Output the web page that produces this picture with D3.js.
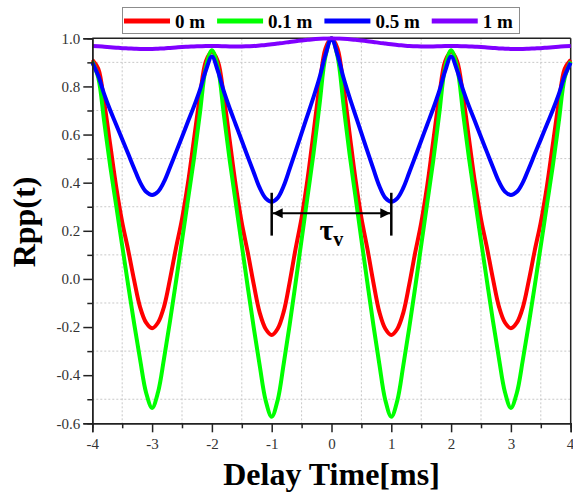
<!DOCTYPE html>
<html>
<head>
<meta charset="utf-8">
<script src="https://cdn.jsdelivr.net/npm/d3@7/dist/d3.min.js"></script>
<style>
  body { margin: 0; background: #fff; }
  svg { display: block; }
  text { font-family: "Liberation Serif", "Times New Roman", serif; }
</style>
</head>
<body>
<script>
var width = 573,
    height = 497,
    margin = {top: 38.3, right: 2.3, bottom: 73.7, left: 92.3};

// delay time [ms]
var delay = [
  -4.0, -3.9, -3.8, -3.7, -3.6, -3.5, -3.4, -3.3, -3.2, -3.1,
  -3.0, -2.9, -2.8, -2.7, -2.6, -2.5, -2.4, -2.3, -2.2, -2.1,
  -2.0, -1.9, -1.8, -1.7, -1.6, -1.5, -1.4, -1.3, -1.2, -1.1,
  -1.0, -0.9, -0.8, -0.7, -0.6, -0.5, -0.4, -0.3, -0.2, -0.1,
   0.0,  0.1,  0.2,  0.3,  0.4,  0.5,  0.6,  0.7,  0.8,  0.9,
   1.0,  1.1,  1.2,  1.3,  1.4,  1.5,  1.6,  1.7,  1.8,  1.9,
   2.0,  2.1,  2.2,  2.3,  2.4,  2.5,  2.6,  2.7,  2.8,  2.9,
   3.0,  3.1,  3.2,  3.3,  3.4,  3.5,  3.6,  3.7,  3.8,  3.9,
   4.0
];

var r0m = [
  0.911, 0.873, 0.732, 0.557, 0.382, 0.236, 0.120, -0.006, -0.118, -0.182,
  -0.205, -0.181, -0.115, 0.000, 0.129, 0.249, 0.399, 0.580, 0.760, 0.905,
  0.944, 0.904, 0.756, 0.571, 0.386, 0.232, 0.110, -0.023, -0.141, -0.208,
  -0.233, -0.207, -0.137, -0.014, 0.126, 0.254, 0.416, 0.609, 0.803, 0.958,
  1.000,
  0.958, 0.803, 0.609, 0.416, 0.254, 0.126, -0.014, -0.137, -0.207,
  -0.233, -0.208, -0.141, -0.023, 0.110, 0.232, 0.386, 0.571, 0.756, 0.904,
  0.944, 0.905, 0.760, 0.580, 0.399, 0.249, 0.129, 0.000, -0.115, -0.181,
  -0.205, -0.182, -0.118, -0.006, 0.120, 0.236, 0.382, 0.557, 0.732, 0.873,
  0.911
];

var r01m = [
  0.904, 0.836, 0.652, 0.468, 0.304, 0.138, -0.026, -0.186, -0.336, -0.473,
  -0.536, -0.470, -0.330, -0.175, -0.010, 0.159, 0.330, 0.500, 0.690, 0.880,
  0.950, 0.878, 0.683, 0.489, 0.315, 0.140, -0.034, -0.203, -0.361, -0.506,
  -0.573, -0.504, -0.354, -0.191, -0.016, 0.163, 0.344, 0.523, 0.725, 0.926,
  1.000,
  0.926, 0.725, 0.523, 0.344, 0.163, -0.016, -0.191, -0.354, -0.504,
  -0.573, -0.506, -0.361, -0.203, -0.034, 0.140, 0.315, 0.489, 0.683, 0.878,
  0.950, 0.880, 0.690, 0.500, 0.330, 0.159, -0.010, -0.175, -0.330, -0.470,
  -0.536, -0.473, -0.336, -0.186, -0.026, 0.138, 0.304, 0.468, 0.652, 0.836,
  0.904
];

var r05m = [
  0.899, 0.844, 0.767, 0.701, 0.641, 0.580, 0.520, 0.459, 0.401, 0.362,
  0.349, 0.363, 0.404, 0.464, 0.527, 0.590, 0.654, 0.717, 0.786, 0.867,
  0.924, 0.864, 0.779, 0.707, 0.641, 0.574, 0.508, 0.442, 0.378, 0.335,
  0.321, 0.337, 0.386, 0.457, 0.531, 0.606, 0.681, 0.756, 0.837, 0.932,
  1.000,
  0.932, 0.837, 0.756, 0.681, 0.606, 0.531, 0.457, 0.386, 0.337,
  0.321, 0.335, 0.378, 0.442, 0.508, 0.574, 0.641, 0.707, 0.779, 0.864,
  0.924, 0.867, 0.786, 0.717, 0.654, 0.590, 0.527, 0.464, 0.404, 0.363,
  0.349, 0.362, 0.401, 0.459, 0.520, 0.580, 0.641, 0.701, 0.767, 0.844,
  0.899
];

var r1m = [
  0.968, 0.967, 0.965, 0.963, 0.961, 0.959, 0.958, 0.957, 0.956, 0.956,
  0.956, 0.957, 0.958, 0.960, 0.962, 0.964, 0.965, 0.966, 0.967, 0.968,
  0.968, 0.968, 0.967, 0.966, 0.966, 0.966, 0.967, 0.968, 0.970, 0.972,
  0.975, 0.978, 0.981, 0.985, 0.988, 0.991, 0.994, 0.996, 0.998, 0.999,
  1.000,
  0.999, 0.998, 0.996, 0.994, 0.991, 0.988, 0.985, 0.981, 0.978,
  0.975, 0.972, 0.970, 0.968, 0.967, 0.966, 0.966, 0.966, 0.967, 0.968,
  0.968, 0.968, 0.967, 0.966, 0.965, 0.964, 0.962, 0.960, 0.958, 0.957,
  0.956, 0.956, 0.956, 0.957, 0.958, 0.959, 0.961, 0.963, 0.965, 0.967,
  0.968
];

var seriesNames = ["0 m", "0.1 m", "0.5 m", "1 m"];
var seriesValues = [r0m, r01m, r05m, r1m];
var seriesColors = ["#ff0000", "#00ff00", "#0000ff", "#8000ff"];

var xMajor = [-4, -3, -2, -1, 0, 1, 2, 3, 4];
var xMinor = [-3.5, -2.5, -1.5, -0.5, 0.5, 1.5, 2.5, 3.5];
var yMajor = [-0.6, -0.4, -0.2, 0.0, 0.2, 0.4, 0.6, 0.8, 1.0];
var yMinor = [-0.5, -0.3, -0.1, 0.1, 0.3, 0.5, 0.7, 0.9];

// tau_v marker: from t=-1 to t=1
var tauSpan = [-1, 1];
var tauLevels = {top: 0.358, arrow: 0.273, bottom: 0.18};

var innerW = width - margin.left - margin.right,
    innerH = height - margin.top - margin.bottom;

var x = d3.scaleLinear().domain([-4, 4]).range([0, innerW]);
var y = d3.scaleLinear().domain([-0.6, 1.0]).range([innerH, 0]);

var svg = d3.select("body").append("svg")
    .attr("width", width)
    .attr("height", height);

var defs = svg.append("defs");
defs.append("clipPath").attr("id", "plotclip")
  .append("rect")
    .attr("x", -2).attr("y", -2)
    .attr("width", innerW + 4).attr("height", innerH + 2);

var g = svg.append("g")
    .attr("transform", "translate(" + margin.left + "," + margin.top + ")");

// dotted grid on minor positions
g.append("g").selectAll("line").data(xMinor).enter().append("line")
    .attr("x1", function(d) { return x(d); })
    .attr("x2", function(d) { return x(d); })
    .attr("y1", 0).attr("y2", innerH)
    .attr("stroke", "#c8c8c8").attr("stroke-width", 1)
    .attr("stroke-dasharray", "2,2");
g.append("g").selectAll("line").data(yMinor).enter().append("line")
    .attr("y1", function(d) { return y(d); })
    .attr("y2", function(d) { return y(d); })
    .attr("x1", 0).attr("x2", innerW)
    .attr("stroke", "#c8c8c8").attr("stroke-width", 1)
    .attr("stroke-dasharray", "2,2");

// frame top / right
g.append("line").attr("x1", 0).attr("x2", innerW).attr("y1", 0).attr("y2", 0)
    .attr("stroke", "#222").attr("stroke-width", 1.5);
g.append("line").attr("x1", innerW).attr("x2", innerW).attr("y1", 0).attr("y2", innerH)
    .attr("stroke", "#222").attr("stroke-width", 1.5);

// curves
var line = d3.line()
    .x(function(d) { return x(d[0]); })
    .y(function(d) { return y(d[1]); })
    .curve(d3.curveCatmullRom.alpha(0.5));

var curves = g.append("g").attr("clip-path", "url(#plotclip)");
seriesValues.forEach(function(vals, i) {
  curves.append("path")
      .datum(delay.map(function(t, j) { return [t, vals[j]]; }))
      .attr("d", line)
      .attr("fill", "none")
      .attr("stroke", seriesColors[i])
      .attr("stroke-width", 4)
      .attr("stroke-linejoin", "round");
});

// axes
function styleAxis(sel) {
  sel.select(".domain").attr("stroke", "#222").attr("stroke-width", 1.5);
  sel.selectAll(".tick line").attr("stroke", "#222").attr("stroke-width", 1.5);
  sel.selectAll(".tick text")
      .attr("fill", "#333")
      .style("font-size", "15px")
      .style("font-family", "'Liberation Serif', 'Times New Roman', serif");
}

g.append("g").attr("transform", "translate(0," + innerH + ")")
    .call(d3.axisBottom(x).tickValues(xMinor).tickSize(5).tickFormat(""))
    .call(styleAxis);
var xAxisG = g.append("g").attr("transform", "translate(0," + innerH + ")")
    .call(d3.axisBottom(x).tickValues(xMajor).tickSize(9).tickPadding(6)
      .tickFormat(function(d) { return String(d); }))
    .call(styleAxis);
// keep the last label inside the page
xAxisG.selectAll(".tick text").filter(function(d) { return d === 4; })
    .attr("text-anchor", "end").attr("dx", 3);

g.append("g")
    .call(d3.axisLeft(y).tickValues(yMinor).tickSize(5).tickFormat(""))
    .call(styleAxis);
g.append("g")
    .call(d3.axisLeft(y).tickValues(yMajor).tickSize(9).tickPadding(3)
      .tickFormat(function(d) { return d.toFixed(1); }))
    .call(styleAxis);

// axis titles
svg.append("text")
    .attr("x", margin.left + innerW / 2)
    .attr("y", 485)
    .attr("text-anchor", "middle")
    .style("font-size", "32px")
    .style("font-weight", "bold")
    .text("Delay Time[ms]");

svg.append("text")
    .attr("transform", "translate(35,222) rotate(-90)")
    .attr("text-anchor", "middle")
    .style("font-size", "32px")
    .style("font-weight", "bold")
    .text("Rpp(t)");

// tau_v annotation
defs.append("marker")
    .attr("id", "arrowhead")
    .attr("viewBox", "0 0 10 10")
    .attr("refX", 10).attr("refY", 5)
    .attr("markerWidth", 8).attr("markerHeight", 5)
    .attr("markerUnits", "strokeWidth")
    .attr("orient", "auto-start-reverse")
  .append("path").attr("d", "M0,0L10,5L0,10z").attr("fill", "#000");

var tau = g.append("g");
tauSpan.forEach(function(t) {
  tau.append("line")
      .attr("x1", x(t)).attr("x2", x(t))
      .attr("y1", y(tauLevels.top)).attr("y2", y(tauLevels.bottom))
      .attr("stroke", "#000").attr("stroke-width", 2.5);
});
tau.append("line")
    .attr("x1", x(tauSpan[0]) + 1).attr("x2", x(tauSpan[1]) - 1)
    .attr("y1", y(tauLevels.arrow)).attr("y2", y(tauLevels.arrow))
    .attr("stroke", "#000").attr("stroke-width", 2)
    .attr("marker-start", "url(#arrowhead)")
    .attr("marker-end", "url(#arrowhead)");

var tauText = tau.append("text")
    .attr("x", x(-0.2))
    .attr("y", y(tauLevels.arrow) + 27)
    .style("font-weight", "bold")
    .style("font-size", "30px");
tauText.append("tspan").text("τ");
tauText.append("tspan").attr("dy", 6).style("font-size", "20px").text("v");

// legend
var legend = svg.append("g");
legend.append("rect")
    .attr("x", 122.5).attr("y", 7.5)
    .attr("width", 397).attr("height", 26)
    .attr("fill", "#fff").attr("stroke", "#8c8c8c").attr("stroke-width", 1);

var lx = 124;
seriesNames.forEach(function(name, i) {
  legend.append("line")
      .attr("x1", lx).attr("x2", lx + 46)
      .attr("y1", 21).attr("y2", 21)
      .attr("stroke", seriesColors[i]).attr("stroke-width", 5);
  var t = legend.append("text")
      .attr("x", lx + 51).attr("y", 28)
      .style("font-size", "19px")
      .style("font-weight", "bold")
      .text(name);
  lx = lx + 51 + t.node().getComputedTextLength() + 12;
});
</script>
</body>
</html>
